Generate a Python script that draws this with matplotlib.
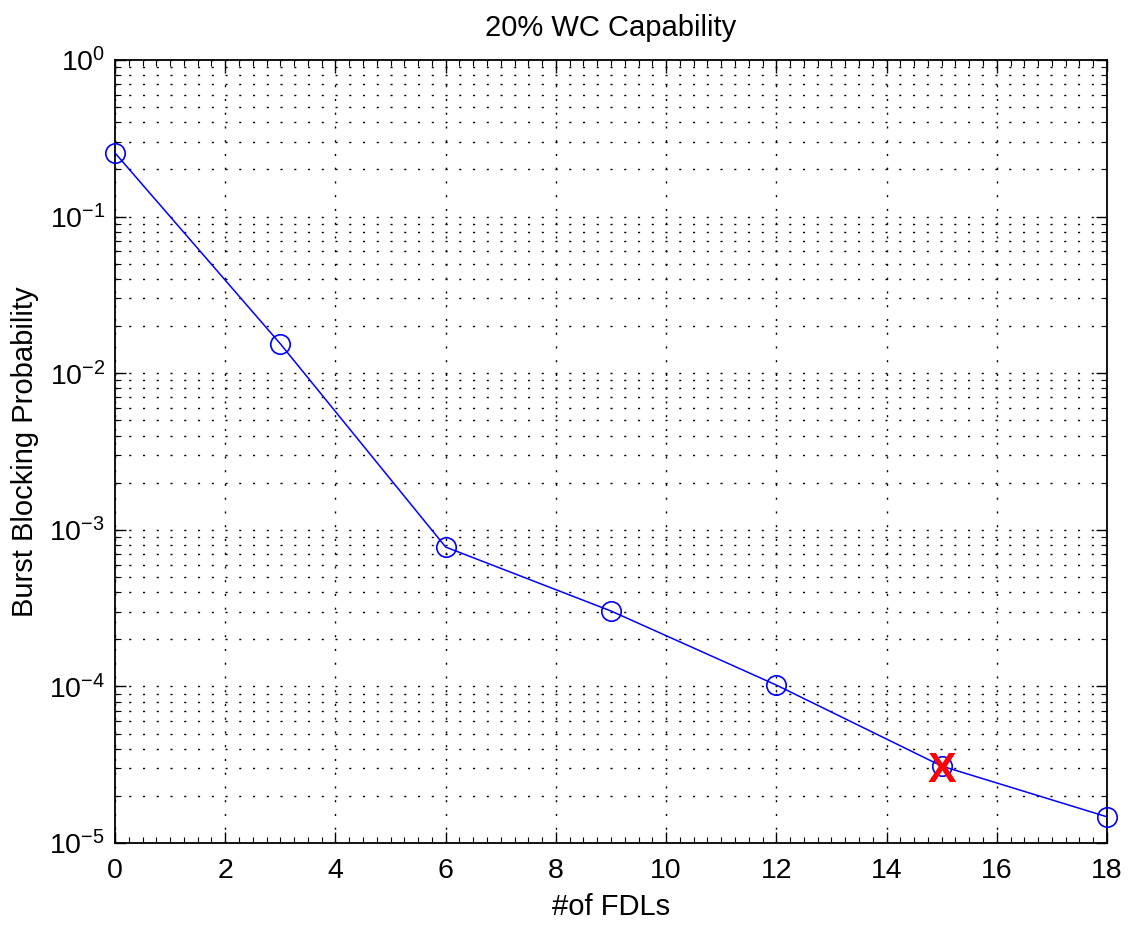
import matplotlib
matplotlib.use("Agg")
import matplotlib.pyplot as plt
from matplotlib.ticker import MultipleLocator, LogLocator, NullFormatter

plt.rcParams['font.family'] = ['Liberation Sans', 'DejaVu Sans']
plt.rcParams['mathtext.fontset'] = 'custom'
plt.rcParams['mathtext.rm'] = 'Liberation Sans'

# data
fdls = [0, 3, 6, 9, 12, 15, 18]
blocking = [0.255, 0.0154, 7.76e-4, 3.03e-4, 1.02e-4, 3.10e-5, 1.47e-5]
mark_x = 15
mark_y = 3.10e-5

fig = plt.figure(figsize=(11.37, 9.25), dpi=100)
ax = fig.add_axes([115 / 1137, 1 - 843 / 925, (1107 - 115) / 1137, (843 - 60) / 925])

ax.semilogy(fdls, blocking, color='blue', linewidth=1.1, marker='o',
            markersize=14, markerfacecolor='none', markeredgecolor='blue',
            markeredgewidth=1.2, clip_on=False, zorder=3)
ax.text(mark_x, mark_y, 'X', color='red', fontsize=31, fontweight='bold',
        ha='center', va='center_baseline', zorder=4)

ax.set_xlim(0, 18)
ax.set_ylim(1e-5, 1)
ax.xaxis.set_major_locator(MultipleLocator(2))
ax.xaxis.set_minor_locator(MultipleLocator(0.25))
ax.yaxis.set_major_locator(LogLocator(base=10, numticks=10))
ax.yaxis.set_minor_locator(LogLocator(base=10, subs=range(2, 10), numticks=10))
ax.yaxis.set_minor_formatter(NullFormatter())

dots = (0, (1.5, 8.4))
ax.grid(True, which='major', axis='both', color='black', linestyle=dots, linewidth=1.0)
ax.grid(True, which='minor', axis='y', color='black', linestyle=dots, linewidth=1.0)

ax.tick_params(which='both', direction='in', top=True, right=True, labelsize=20.5)
ax.tick_params(which='major', length=8, width=1)
ax.tick_params(which='minor', length=4, width=0.8)
ax.tick_params(axis='x', pad=11)
ax.tick_params(axis='y', pad=7)
for s in ax.spines.values():
    s.set_linewidth(1.3)

ax.set_title('20% WC Capability', fontsize=21, pad=17)
ax.set_xlabel('#of FDLs', fontsize=21, labelpad=6)
ax.set_ylabel('Burst Blocking Probability', fontsize=21, labelpad=7)

fig.savefig('out.png', dpi=100)
